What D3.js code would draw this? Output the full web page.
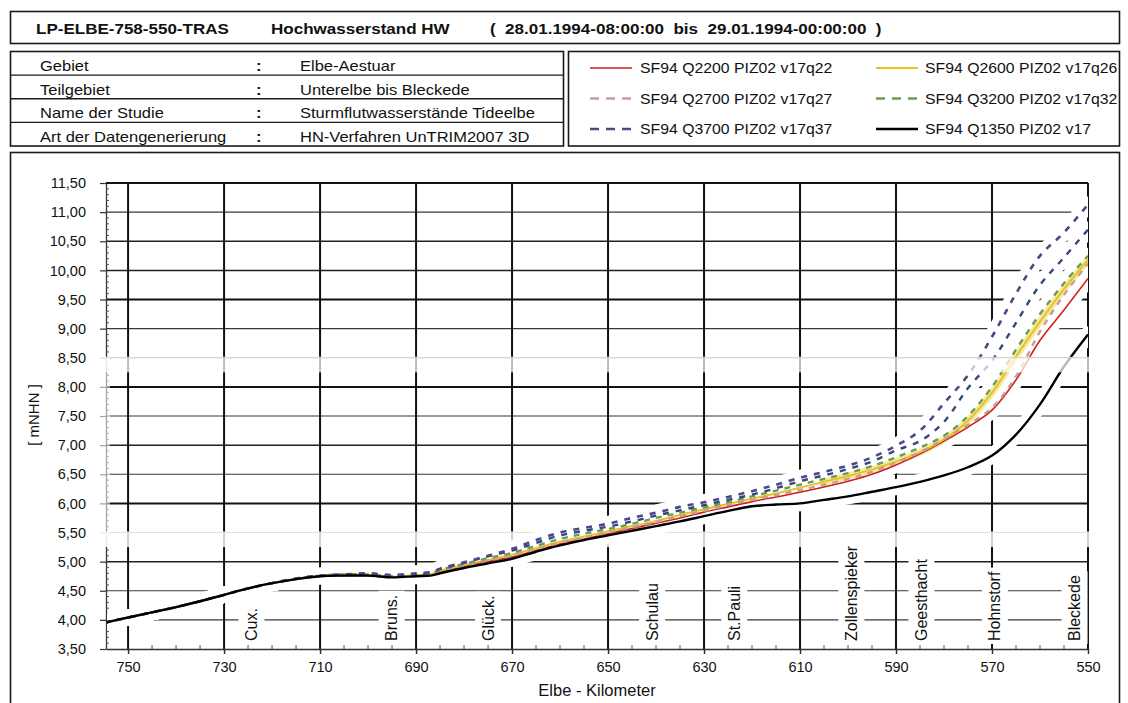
<!DOCTYPE html>
<html><head><meta charset="utf-8">
<script src="https://cdn.jsdelivr.net/npm/d3@7"></script>
<style>
html,body{margin:0;padding:0;background:#fff;}
svg{display:block;font-family:"Liberation Sans",Arial,sans-serif;}
</style></head><body>
<svg id="chart" width="1128" height="703"></svg>
<script>
// ---------------- DATA ----------------
const km = [755,750,745,740,735,730,725,720,715,710,705,700,695,690,687,685,680,675,670,665,660,655,650,645,640,635,630,625,620,615,610,605,600,595,590,585,580,575,570,565,560,555,550];

const q1350 = [3.95,4.04,4.13,4.22,4.32,4.43,4.54,4.63,4.70,4.75,4.76,4.76,4.73,4.75,4.76,4.80,4.89,4.97,5.05,5.17,5.28,5.37,5.45,5.53,5.61,5.69,5.78,5.87,5.95,5.98,6.00,6.06,6.12,6.20,6.28,6.37,6.48,6.62,6.82,7.18,7.70,8.35,8.90];
const q2200 = [3.95,4.04,4.13,4.22,4.32,4.43,4.54,4.63,4.70,4.75,4.76,4.76,4.74,4.76,4.77,4.82,4.92,5.00,5.08,5.19,5.30,5.39,5.48,5.57,5.66,5.75,5.85,5.94,6.03,6.11,6.19,6.28,6.38,6.50,6.66,6.85,7.07,7.31,7.60,8.12,8.80,9.32,9.86];
const q2600 = [3.95,4.04,4.13,4.22,4.32,4.43,4.54,4.63,4.70,4.75,4.77,4.77,4.74,4.77,4.78,4.84,4.94,5.03,5.12,5.23,5.34,5.43,5.52,5.61,5.70,5.80,5.90,5.99,6.08,6.17,6.27,6.37,6.47,6.58,6.72,6.88,7.10,7.42,7.90,8.52,9.12,9.68,10.18];
const q2700 = [3.95,4.04,4.13,4.22,4.32,4.43,4.54,4.63,4.70,4.75,4.77,4.77,4.74,4.77,4.78,4.83,4.93,5.02,5.10,5.21,5.32,5.41,5.50,5.59,5.68,5.78,5.87,5.97,6.06,6.14,6.23,6.32,6.42,6.54,6.70,6.88,7.10,7.35,7.64,8.18,8.95,9.58,10.12];
const q3200 = [3.95,4.04,4.13,4.22,4.32,4.43,4.54,4.63,4.70,4.76,4.78,4.78,4.75,4.78,4.80,4.86,4.96,5.06,5.15,5.27,5.39,5.48,5.56,5.65,5.75,5.84,5.93,6.02,6.12,6.22,6.32,6.42,6.52,6.64,6.79,6.96,7.16,7.50,8.00,8.64,9.25,9.78,10.25];
const qExtra = [3.95,4.04,4.13,4.22,4.32,4.43,4.54,4.63,4.71,4.76,4.78,4.79,4.76,4.79,4.81,4.87,4.98,5.09,5.19,5.32,5.45,5.53,5.60,5.69,5.79,5.88,5.97,6.06,6.15,6.26,6.38,6.48,6.59,6.72,6.91,7.07,7.40,7.98,8.45,9.10,9.75,10.22,10.70];
const q3700 = [3.95,4.04,4.13,4.22,4.32,4.43,4.54,4.63,4.71,4.76,4.78,4.80,4.77,4.80,4.82,4.88,4.99,5.10,5.22,5.37,5.50,5.58,5.65,5.75,5.84,5.94,6.02,6.11,6.21,6.32,6.44,6.54,6.65,6.79,6.99,7.25,7.72,8.20,8.86,9.60,10.25,10.65,11.13];

const legendLabels = ["SF94 Q2200 PIZ02 v17q22","SF94 Q2600 PIZ02 v17q26","SF94 Q2700 PIZ02 v17q27","SF94 Q3200 PIZ02 v17q32","SF94 Q3700 PIZ02 v17q37","SF94 Q1350 PIZ02 v17"];

const yTicks = [3.5,4.0,4.5,5.0,5.5,6.0,6.5,7.0,7.5,8.0,8.5,9.0,9.5,10.0,10.5,11.0,11.5];
const yTickLabels = ["3,50","4,00","4,50","5,00","5,50","6,00","6,50","7,00","7,50","8,00","8,50","9,00","9,50","10,00","10,50","11,00","11,50"];
const xTicks = [750,730,710,690,670,650,630,610,590,570,550];
const xTickLabels = ["750","730","710","690","670","650","630","610","590","570","550"];

const stations = ["Cux.","Bruns.","Glück.","Schulau","St.Pauli","Zollenspieker","Geesthacht","Hohnstorf","Bleckede"];
const stationKm = [724.3,695.1,675.0,640.8,623.7,599.3,584.7,569.4,552.8];

const headerTexts = ["LP-ELBE-758-550-TRAS","Hochwasserstand HW","(  28.01.1994-08:00:00  bis  29.01.1994-00:00:00  )"];
const infoKeys = ["Gebiet","Teilgebiet","Name der Studie","Art der Datengenerierung"];
const infoValues = ["Elbe-Aestuar","Unterelbe bis Bleckede","Sturmflutwasserstände Tideelbe","HN-Verfahren UnTRIM2007 3D"];

// ---------------- DRAW ----------------
const svg = d3.select('#chart');
svg.append('rect').attr('width',1128).attr('height',703).attr('fill','#fff');

function stext(parent, x, y, str, size, weight, sx){
  return parent.append('text')
    .attr('transform',`translate(${x},${y}) scale(${sx},1)`)
    .attr('font-size',size).attr('font-weight',weight||'normal')
    .attr('fill','#111').style('white-space','pre').text(str);
}
function box(x,y,w,h){
  svg.append('rect').attr('x',x).attr('y',y).attr('width',w).attr('height',h)
    .attr('fill','none').attr('stroke','#1a1a1a').attr('stroke-width',1.6);
}

// header
box(10.5,11.5,1109,32);
const hx = [36,271,490];
headerTexts.forEach((t,i)=>stext(svg,hx[i],33.5,t,15,'bold',1.135));

// info table
box(10.5,51.5,553,94.5);
const rowH = 94.5/4;
for(let i=1;i<4;i++){
  svg.append('line').attr('x1',10.5).attr('x2',563.5).attr('y1',51.5+i*rowH).attr('y2',51.5+i*rowH)
    .attr('stroke','#1a1a1a').attr('stroke-width',1.4);
}
infoKeys.forEach((k,i)=>{
  const by = 51.5+(i+1)*rowH-4;
  stext(svg,40,by,k,14,'normal',1.18);
  stext(svg,256,by,":",14,'bold',1.18);
  stext(svg,300,by,infoValues[i],14,'normal',1.18);
});

// series definitions (styles) in drawing order
const series = [
  {vals:q2200, color:'#d11f1f', w:1.6, dash:null,  legend:0},
  {vals:q2600, color:'#e6c21e', w:2.0, dash:null,  legend:1, glow:'#f4eaa6'},
  {vals:q2700, color:'#c49c98', w:2.4, dash:'6,6', legend:2},
  {vals:q3200, color:'#6f9a55', w:2.4, dash:'6,6', legend:3},
  {vals:qExtra,color:'#2f4a7c', w:2.4, dash:'6,7', legend:null},
  {vals:q3700, color:'#4f4688', w:2.6, dash:'6,7', legend:4},
  {vals:q1350, color:'#000000', w:2.4, dash:null,  legend:5}
];

// legend
box(568.5,51.5,551,94.5);
const legRowY = [68,98.5,129];
const legCol = [{lx1:590,lx2:632,tx:640},{lx1:876,lx2:918,tx:925}];
series.filter(s=>s.legend!==null).forEach(s=>{
  const i = s.legend, r = Math.floor(i/2), c = i%2;
  const cy = legRowY[r];
  svg.append('line').attr('x1',legCol[c].lx1).attr('x2',legCol[c].lx2).attr('y1',cy).attr('y2',cy)
    .attr('stroke',s.color).attr('stroke-width',s.w).attr('stroke-dasharray',s.dash?'9,7':null);
  stext(svg,legCol[c].tx,cy+5,legendLabels[i],14,'normal',1.13);
});

// main chart frame
box(10.5,152.5,1109,600);

const x = d3.scaleLinear().domain([754.6,550]).range([106,1088]);
const y = d3.scaleLinear().domain([3.5,11.5]).range([649,183]);
const X0 = x(754.6), X1 = x(550), Y0 = y(3.5), Y1 = y(11.5);

// horizontal grid
const thick = [9.5,8.0,6.0,11.5], medium = [10.5,10.0,7.0,5.0];
yTicks.forEach(v=>{
  if(v===3.5 || v===8.5 || v===5.5) return;
  let w=1.1, col='#3a3a3a';
  if(thick.includes(v)){w=2.0; col='#111';}
  else if(medium.includes(v)){w=1.5; col='#222';}
  svg.append('line').attr('x1',X0).attr('x2',X1).attr('y1',y(v)).attr('y2',y(v))
    .attr('stroke',col).attr('stroke-width',w);
});
// vertical grid
xTicks.forEach(k=>{
  svg.append('line').attr('x1',x(k)).attr('x2',x(k)).attr('y1',Y1).attr('y2',Y0)
    .attr('stroke','#111').attr('stroke-width',2);
});

// axes
const yAxis = d3.axisLeft(y).tickValues(yTicks).tickSize(6).tickSizeOuter(0).tickPadding(14)
  .tickFormat((d,i)=>yTickLabels[i]);
const gy = svg.append('g').attr('transform',`translate(${X0},0)`).call(yAxis);
gy.select('.domain').attr('stroke','#333').attr('stroke-width',1.3);
gy.selectAll('.tick line').attr('stroke','#333').attr('stroke-width',1.2);
gy.selectAll('.tick text').attr('font-size',14.5).attr('fill','#111').attr('font-family','"Liberation Sans",Arial,sans-serif');
d3.range(35,116).map(v=>v/10).filter(v=>Math.abs(v*2-Math.round(v*2))>0.01).forEach(v=>{
  svg.append('line').attr('x1',X0).attr('x2',X0+3).attr('y1',y(v)).attr('y2',y(v)).attr('stroke','#555').attr('stroke-width',1);
});

const xAxis = d3.axisBottom(x).tickValues(xTicks).tickSize(5).tickSizeOuter(0).tickPadding(8)
  .tickFormat((d,i)=>xTickLabels[i]);
const gx = svg.append('g').attr('transform',`translate(0,${Y0})`).call(xAxis);
gx.select('.domain').attr('stroke','#333').attr('stroke-width',1.5);
gx.selectAll('.tick line').attr('stroke','#333').attr('stroke-width',1.5);
gx.selectAll('.tick text').attr('font-size',14.5).attr('fill','#111').attr('font-family','"Liberation Sans",Arial,sans-serif');
d3.range(550,755,5).filter(k=>(k-550)%20!==0).forEach(k=>{
  svg.append('line').attr('x1',x(k)).attr('x2',x(k)).attr('y1',Y0).attr('y2',Y0-4).attr('stroke','#555').attr('stroke-width',1);
});

// axis titles
svg.append('text').attr('x',(X0+X1)/2).attr('y',696).attr('text-anchor','middle')
  .attr('font-size',16.5).attr('fill','#111').text('Elbe - Kilometer');
svg.append('text').attr('transform','translate(39,415) rotate(-90)').attr('text-anchor','middle')
  .attr('font-size',15).attr('fill','#111').style('white-space','pre').text('[ mNHN ]');

// washed band at 5,50 (under data)
svg.append('rect').attr('x',X0-8).attr('y',y(5.5)-1).attr('width',X1-X0+10).attr('height',y(5.25)-y(5.5)+1)
  .attr('fill','#fff').attr('opacity',0.8);
svg.append('line').attr('x1',X0).attr('x2',X1).attr('y1',y(5.5)).attr('y2',y(5.5)).attr('stroke','#e2e2e2').attr('stroke-width',1);

// data
svg.append('clipPath').attr('id','plotclip').append('rect')
  .attr('x',X0+1).attr('y',Y1).attr('width',X1-X0-1).attr('height',Y0-Y1);
const gData = svg.append('g').attr('clip-path','url(#plotclip)');
const line = d3.line().x(d=>x(d[0])).y(d=>y(d[1])).curve(d3.curveCatmullRom.alpha(0.5));
const pts = s => km.map((k,i)=>[k,s.vals[i]]);
series.forEach(s=>{
  gData.append('path').attr('d',line(pts(s))).attr('fill','none').attr('stroke','#fff')
    .attr('stroke-width',16).attr('stroke-linejoin','round').attr('stroke-linecap','round');
});
series.filter(s=>s.glow).forEach(s=>{
  gData.append('path').attr('d',line(pts(s).filter(p=>p[0]<=605))).attr('fill','none')
    .attr('stroke',s.glow).attr('stroke-width',7).attr('stroke-linecap','round');
});
series.forEach(s=>{
  gData.append('path').attr('d',line(pts(s))).attr('fill','none').attr('stroke',s.color)
    .attr('stroke-width',s.w).attr('stroke-dasharray',s.dash).attr('stroke-linejoin','round');
});

// washed band at 8,50 (over data)
svg.append('rect').attr('x',X0-8).attr('y',y(8.5)-1).attr('width',X1-X0+10).attr('height',y(8.25)-y(8.5)+1)
  .attr('fill','#fff').attr('opacity',0.72);
svg.append('line').attr('x1',X0).attr('x2',X1).attr('y1',y(8.5)).attr('y2',y(8.5)).attr('stroke','#c8c8c8').attr('stroke-width',1);
svg.append('rect').attr('x',X0-8).attr('y',y(8.5)).attr('width',12).attr('height',y(5.25)-y(8.5))
  .attr('fill','#fff').attr('opacity',0.55);

// station labels
stations.forEach((name,i)=>{
  const cx = x(stationKm[i]);
  const g = svg.append('g');
  const bg = g.append('rect').attr('fill','#fff');
  const t = g.append('text').attr('transform',`translate(${cx},641) rotate(-90)`)
    .attr('dominant-baseline','central').attr('font-size',16).attr('fill','#111').text(name);
  const len = t.node().getComputedTextLength();
  bg.attr('x',cx-13).attr('y',641-len-4).attr('width',26).attr('height',len+7);
});
</script>
</body></html>
